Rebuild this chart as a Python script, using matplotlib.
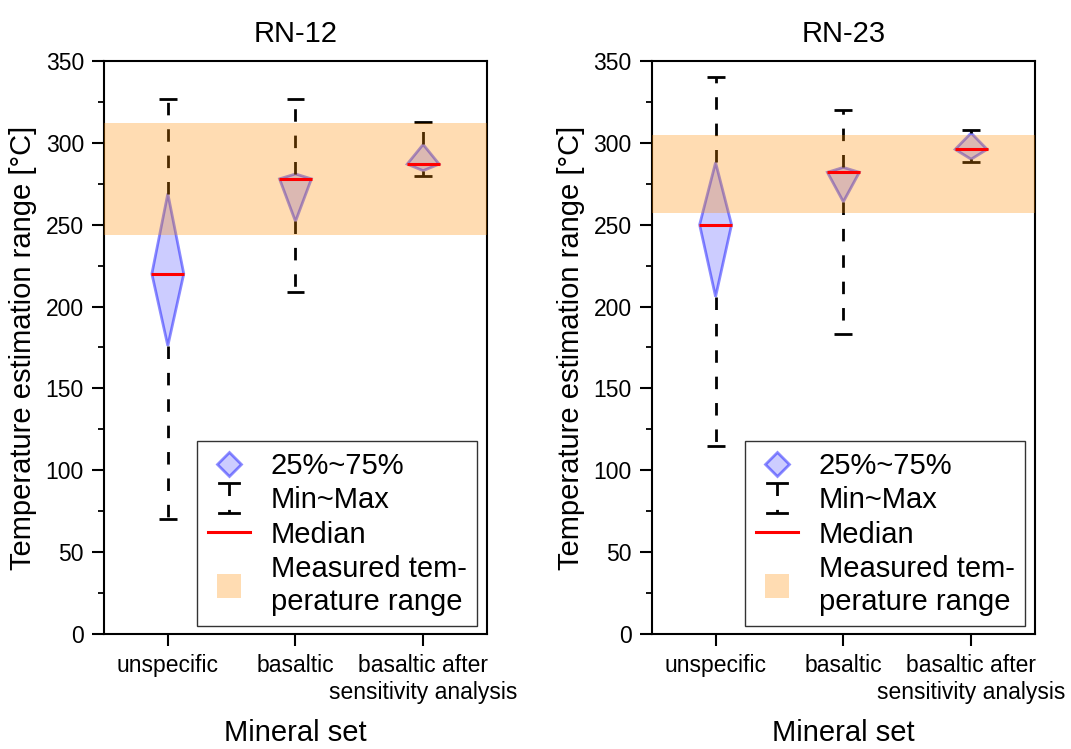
import matplotlib
matplotlib.use('Agg')
import matplotlib.pyplot as plt
from matplotlib.lines import Line2D
from matplotlib.legend_handler import HandlerBase
import numpy as np

plt.rcParams['font.family'] = ['Liberation Sans', 'DejaVu Sans']

# Mineral sets on the x axis
categories = ['unspecific', 'basaltic', 'basaltic after\nsensitivity analysis']

# RN-12 temperature estimates [°C]
rn12_min = [70, 209, 280]
rn12_q1 = [176, 252, 283]
rn12_med = [220, 278, 287]
rn12_q3 = [269, 281, 299]
rn12_max = [327, 327, 313]
rn12_measured = [244, 312]

# RN-23 temperature estimates [°C]
rn23_min = [115, 183, 288]
rn23_q1 = [206, 264, 290]
rn23_med = [250, 282, 296]
rn23_q3 = [288, 285, 306]
rn23_max = [340, 320, 308]
rn23_measured = [257, 305]

DIAMOND_W = 0.125
CAP_W = 0.07
WHISKER_DASH = (0, (4.5, 5))
BAND_COLOR = '#ff8c00'


class WhiskerHandler(HandlerBase):
    """Vertical dashed line with caps for the Min~Max legend entry."""
    def create_artists(self, legend, orig_handle, xdescent, ydescent,
                       width, height, fontsize, trans):
        cx = width / 2 - xdescent
        cy = height / 2 - ydescent
        top, bot = cy + 0.75 * height, cy - 0.75 * height
        cw = 0.24 * width
        line = Line2D([cx, cx], [top, bot], color='black', lw=2,
                      linestyle=WHISKER_DASH, transform=trans)
        cap_t = Line2D([cx - cw, cx + cw], [top, top], color='black', lw=2,
                       transform=trans)
        cap_b = Line2D([cx - cw, cx + cw], [bot, bot], color='black', lw=2,
                       transform=trans)
        return [line, cap_t, cap_b]


def draw_panel(ax, title, vmin, q1, med, q3, vmax, measured):
    x = np.arange(1, len(categories) + 1)
    for xi, lo, a, m, b, hi in zip(x, vmin, q1, med, q3, vmax):
        # interquartile diamond
        ax.fill([xi, xi - DIAMOND_W, xi, xi + DIAMOND_W],
                [a, m, b, m], facecolor=(0, 0, 1, 0.2),
                edgecolor=(0, 0, 1, 0.45), lw=2, zorder=2)
        # whiskers drawn outward from the box
        ax.plot([xi, xi], [b, hi], color='black', lw=2,
                linestyle=WHISKER_DASH, zorder=2)
        ax.plot([xi, xi], [a, lo], color='black', lw=2,
                linestyle=WHISKER_DASH, zorder=2)
        ax.hlines([lo, hi], xi - CAP_W, xi + CAP_W, color='black', lw=2,
                  zorder=2)
    ax.axhspan(measured[0], measured[1], color=BAND_COLOR, alpha=0.3,
               lw=0, zorder=3)
    ax.hlines(med, x - DIAMOND_W - 0.005, x + DIAMOND_W + 0.005,
              color='red', lw=2.2, zorder=4)

    ax.set_xlim(0.5, 3.5)
    ax.set_ylim(0, 350)
    ax.set_xticks(x)
    ax.set_xticklabels(categories, fontsize=16.5)
    ax.set_yticks(np.arange(0, 351, 50))
    ax.set_yticks(np.arange(25, 350, 50), minor=True)
    ax.tick_params(axis='y', labelsize=16.5)
    ax.tick_params(which='major', direction='out', length=8.5, width=1.5,
                   pad=6)
    ax.tick_params(which='minor', direction='out', length=4, width=1.3)
    ax.tick_params(top=False, right=False, which='both')
    for s in ax.spines.values():
        s.set_linewidth(1.5)
    ax.set_title(title, fontsize=21, pad=14)
    ax.set_xlabel('Mineral set', fontsize=21, labelpad=11)
    ax.set_ylabel('Temperature estimation range [°C]', fontsize=21,
                  labelpad=6)

    h_iqr = Line2D([], [], marker='D', ls='none', markersize=12.5,
                   markerfacecolor=(0, 0, 1, 0.2),
                   markeredgecolor=(0, 0, 1, 0.45), markeredgewidth=2)
    h_range = object()
    h_med = Line2D([], [], color='red', lw=2.2)
    h_meas = Line2D([], [], marker='s', ls='none', markersize=17.5,
                    markerfacecolor=BAND_COLOR, markeredgewidth=0, alpha=0.3)
    leg = ax.legend([h_iqr, h_range, h_med, h_meas],
                    ['25%~75%', 'Min~Max', 'Median',
                     'Measured tem-\nperature range'],
                    handler_map={h_range: WhiskerHandler()},
                    loc='lower right', bbox_to_anchor=(0.974, 0.014),
                    fontsize=21, fancybox=False, framealpha=1,
                    edgecolor='#333333', handlelength=1.45,
                    handletextpad=0.7, labelspacing=0.22, borderpad=0.36,
                    borderaxespad=0)
    leg.get_frame().set_linewidth(1)


fig = plt.figure(figsize=(10.71, 7.49), dpi=100)
ax1 = fig.add_axes([0.0971, 0.1535, 0.3576, 0.7651])
ax2 = fig.add_axes([0.6085, 0.1535, 0.3579, 0.7651])

draw_panel(ax1, 'RN-12', rn12_min, rn12_q1, rn12_med, rn12_q3, rn12_max,
           rn12_measured)
draw_panel(ax2, 'RN-23', rn23_min, rn23_q1, rn23_med, rn23_q3, rn23_max,
           rn23_measured)

fig.savefig('out.png', dpi=100)
